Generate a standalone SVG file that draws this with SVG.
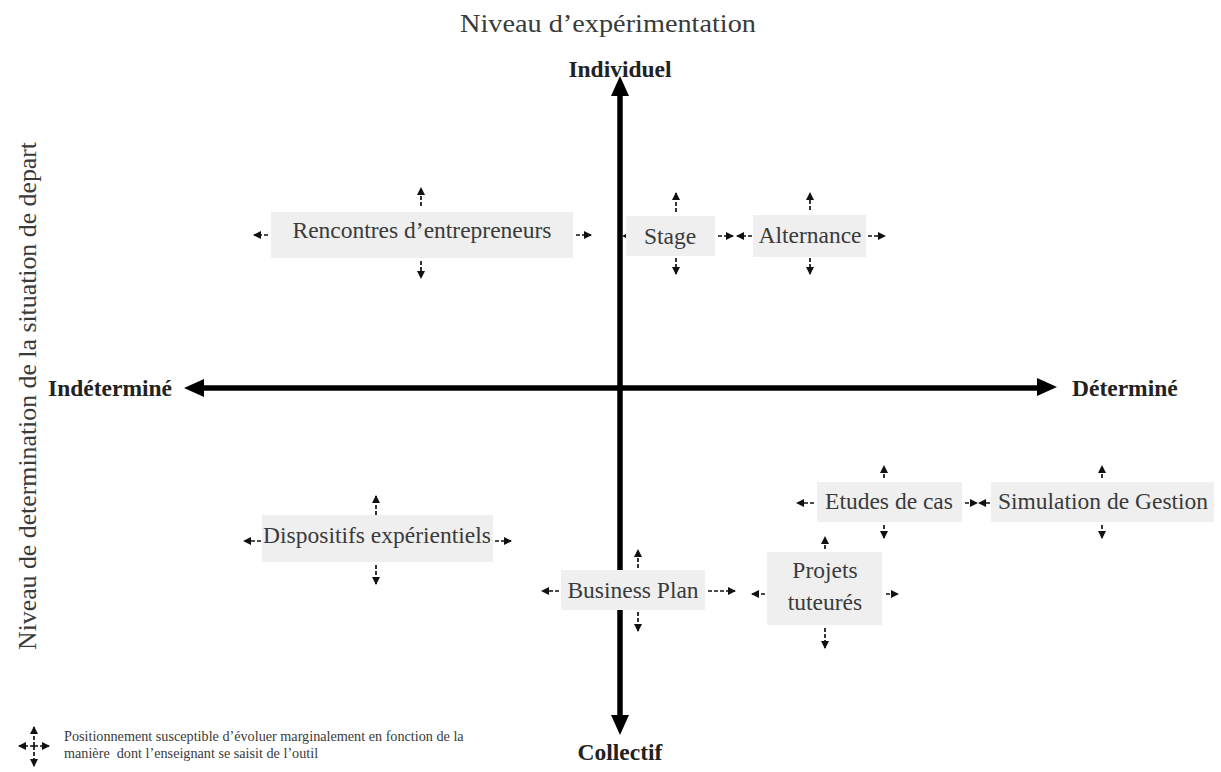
<svg xmlns="http://www.w3.org/2000/svg" width="1221" height="772" viewBox="0 0 1221 772">
<defs>
<marker id="ah" markerWidth="8" markerHeight="8" refX="7" refY="4" orient="auto" markerUnits="userSpaceOnUse"><path d="M0,0 L8,4 L0,8 z" fill="#111"/></marker>
<style>
.t{font-family:"Liberation Serif","Times New Roman",serif;fill:#3a3a3a;font-size:23.5px;text-anchor:middle}
.l{font-family:"Liberation Serif","Times New Roman",serif;fill:#3a3a3a;font-size:14.2px;text-anchor:start}
.b{font-family:"Liberation Serif","Times New Roman",serif;fill:#222;font-size:23.5px;font-weight:bold}
.box{fill:#efefef}
.d{stroke:#111;stroke-width:1.7;stroke-dasharray:4 2;fill:none;marker-end:url(#ah)}
.ax{stroke:#000;stroke-width:5.5}
</style>
</defs>
<rect width="1221" height="772" fill="#fff"/>
<text x="608" y="32" class="t" style="font-size:25px" textLength="296" lengthAdjust="spacingAndGlyphs">Niveau d’expérimentation</text>
<text x="36" y="396" class="t" style="font-size:25px" transform="rotate(-90 36 396)" textLength="508" lengthAdjust="spacingAndGlyphs">Niveau de determination de la situation de depart</text>
<text x="620" y="77" class="b" text-anchor="middle">Individuel</text>
<text x="620" y="760" class="b" text-anchor="middle">Collectif</text>
<text x="48" y="396" class="b">Indéterminé</text>
<text x="1072" y="396" class="b">Déterminé</text>
<g id="axes">
<line x1="620" y1="94" x2="620" y2="718" class="ax"/>
<polygon points="620,76 611,96 629,96" fill="#000"/>
<polygon points="620,735 611,715 629,715" fill="#000"/>
<line x1="202" y1="388" x2="1040" y2="388" class="ax"/>
<polygon points="184,388 204,379 204,397" fill="#000"/>
<polygon points="1057,387 1037,378 1037,396" fill="#000"/>
</g>
<g id="connectors">
<line x1="268" y1="235" x2="254" y2="235" class="d"/>
<line x1="576" y1="235" x2="591" y2="235" class="d"/>
<line x1="421" y1="206" x2="421" y2="188" class="d"/>
<line x1="421" y1="261" x2="421" y2="278" class="d"/>
<line x1="629" y1="236" x2="623" y2="236" class="d"/>
<line x1="718" y1="236" x2="733" y2="236" class="d"/>
<line x1="676" y1="212" x2="676" y2="193" class="d"/>
<line x1="676" y1="258" x2="676" y2="274" class="d"/>
<line x1="752" y1="236" x2="737" y2="236" class="d"/>
<line x1="868" y1="236" x2="885" y2="236" class="d"/>
<line x1="810" y1="210" x2="810" y2="193" class="d"/>
<line x1="810" y1="258" x2="810" y2="274" class="d"/>
<line x1="261" y1="541" x2="244" y2="541" class="d"/>
<line x1="495" y1="541" x2="511" y2="541" class="d"/>
<line x1="376" y1="515" x2="376" y2="496" class="d"/>
<line x1="376" y1="565" x2="376" y2="584" class="d"/>
<line x1="559" y1="591" x2="542" y2="591" class="d"/>
<line x1="708" y1="591" x2="735" y2="591" class="d"/>
<line x1="638" y1="568" x2="638" y2="550" class="d"/>
<line x1="638" y1="612" x2="638" y2="631" class="d"/>
<line x1="765" y1="594" x2="752" y2="594" class="d"/>
<line x1="886" y1="594" x2="898" y2="594" class="d"/>
<line x1="825" y1="549" x2="825" y2="537" class="d"/>
<line x1="825" y1="628" x2="825" y2="648" class="d"/>
<line x1="814" y1="503" x2="797" y2="503" class="d"/>
<line x1="965" y1="503" x2="977" y2="503" class="d"/>
<line x1="884" y1="478" x2="884" y2="466" class="d"/>
<line x1="884" y1="525" x2="884" y2="538" class="d"/>
<line x1="990" y1="503" x2="979" y2="503" class="d"/>
<line x1="1102" y1="478" x2="1102" y2="466" class="d"/>
<line x1="1102" y1="525" x2="1102" y2="538" class="d"/>
</g>
<g id="n-rencontres"><rect x="271" y="212" width="302" height="46" class="box"/><text x="422" y="238" class="t">Rencontres d’entrepreneurs</text></g>
<g id="n-stage"><rect x="626" y="216" width="89" height="40" class="box"/><text x="670" y="244" class="t">Stage</text></g>
<g id="n-alternance"><rect x="753" y="215" width="113" height="42" class="box"/><text x="810" y="243" class="t">Alternance</text></g>
<g id="n-dispositifs"><rect x="262" y="515" width="231" height="47" class="box"/><text x="377" y="543" class="t">Dispositifs expérientiels</text></g>
<g id="n-business"><rect x="561" y="570" width="144" height="40" class="box"/><text x="633" y="598" class="t">Business Plan</text></g>
<g id="n-projets"><rect x="767" y="552" width="115" height="73" class="box"/><text x="825" y="578" class="t">Projets</text><text x="825" y="610" class="t">tuteurés</text></g>
<g id="n-etudes"><rect x="817" y="482" width="145" height="40" class="box"/><text x="889" y="509" class="t">Etudes de cas</text></g>
<g id="n-simulation"><rect x="991" y="482" width="223" height="40" class="box"/><text x="1103" y="509" class="t">Simulation de Gestion</text></g>
<g id="legend">
<line x1="34" y1="746" x2="34" y2="727" class="d"/>
<line x1="34" y1="746" x2="34" y2="766" class="d"/>
<line x1="34" y1="746" x2="19" y2="746" class="d"/>
<line x1="34" y1="746" x2="49" y2="746" class="d"/>
<text x="64" y="741" class="l">Positionnement susceptible d’évoluer marginalement en fonction de la</text>
<text x="64" y="758" class="l" xml:space="preserve">manière  dont l’enseignant se saisit de l’outil</text>
</g>
</svg>
